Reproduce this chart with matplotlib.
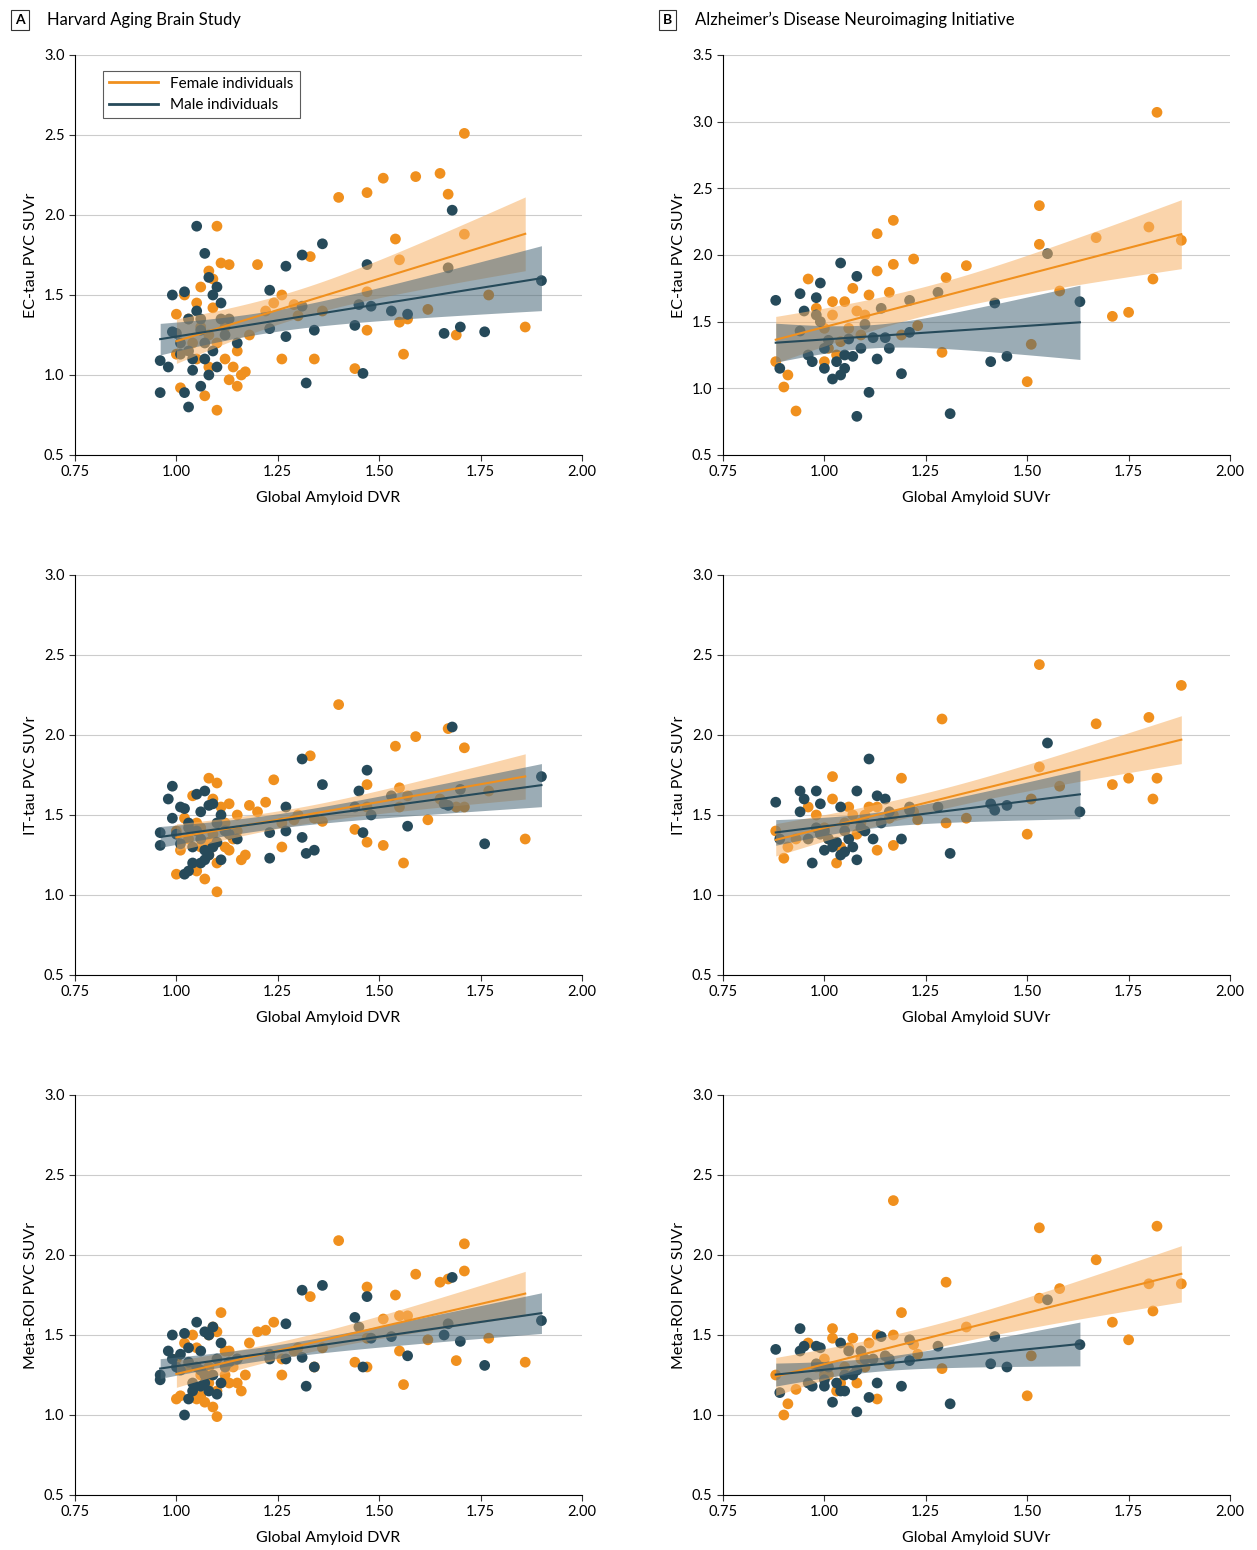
import numpy as np
import matplotlib
matplotlib.use("Agg")
import matplotlib.pyplot as plt

plt.rcParams['font.family'] = ['Lato', 'DejaVu Sans']

ORANGE = '#F0901E'
TEAL = '#264A5A'

# ---- Harvard Aging Brain Study ----
habs_f_x = [1.10, 1.08, 1.09, 1.11, 1.13, 1.20, 1.05, 1.02, 1.00, 1.03, 1.06, 1.08, 1.10, 1.12, 1.14,
            1.16, 1.17, 1.05, 1.00, 1.01, 1.07, 1.10, 1.13, 1.15, 1.08, 1.04, 1.12, 1.18, 1.22, 1.24,
            1.26, 1.29, 1.26, 1.30, 1.33, 1.34, 1.36, 1.40, 1.44, 1.47, 1.47, 1.47, 1.51, 1.54, 1.55,
            1.55, 1.56, 1.57, 1.59, 1.62, 1.65, 1.67, 1.69, 1.71, 1.71, 1.77, 1.86, 1.15, 1.09, 1.06]
habs_f_ec = [1.93, 1.65, 1.60, 1.70, 1.69, 1.69, 1.45, 1.50, 1.38, 1.35, 1.30, 1.25, 1.20, 1.10, 1.05,
             1.00, 1.02, 1.10, 1.13, 0.92, 0.87, 0.78, 0.97, 0.93, 1.05, 1.20, 1.30, 1.25, 1.40, 1.45,
             1.50, 1.44, 1.10, 1.37, 1.74, 1.10, 1.40, 2.11, 1.04, 2.14, 1.52, 1.28, 2.23, 1.85, 1.72,
             1.33, 1.13, 1.35, 2.24, 1.41, 2.26, 2.13, 1.25, 2.51, 1.88, 1.50, 1.30, 1.15, 1.42, 1.55]
habs_f_it = [1.70, 1.73, 1.60, 1.55, 1.57, 1.52, 1.45, 1.48, 1.40, 1.35, 1.30, 1.25, 1.20, 1.30, 1.35,
             1.22, 1.25, 1.15, 1.13, 1.28, 1.10, 1.02, 1.28, 1.40, 1.33, 1.62, 1.45, 1.56, 1.58, 1.72,
             1.30, 1.47, 1.45, 1.50, 1.87, 1.48, 1.46, 2.19, 1.41, 1.33, 1.69, 1.55, 1.31, 1.93, 1.67,
             1.55, 1.20, 1.62, 1.99, 1.47, 1.60, 2.04, 1.55, 1.92, 1.55, 1.65, 1.35, 1.50, 1.38, 1.42]
habs_f_meta = [1.52, 1.50, 1.55, 1.64, 1.40, 1.52, 1.42, 1.45, 1.35, 1.30, 1.25, 1.20, 1.15, 1.25, 1.30,
               1.15, 1.25, 1.10, 1.10, 1.12, 1.08, 0.99, 1.20, 1.35, 1.30, 1.50, 1.40, 1.45, 1.53, 1.58,
               1.25, 1.40, 1.35, 1.42, 1.74, 1.30, 1.42, 2.09, 1.33, 1.30, 1.80, 1.48, 1.60, 1.75, 1.62,
               1.40, 1.19, 1.62, 1.88, 1.47, 1.83, 1.85, 1.34, 2.07, 1.90, 1.48, 1.33, 1.20, 1.05, 1.12]

habs_m_x = [0.96, 0.96, 0.98, 0.99, 0.99, 1.00, 1.01, 1.02, 1.02, 1.03, 1.04, 1.04, 1.05, 1.05, 1.06,
            1.06, 1.07, 1.07, 1.08, 1.08, 1.09, 1.09, 1.10, 1.10, 1.11, 1.12, 1.13, 1.15, 1.03, 1.06,
            1.23, 1.23, 1.27, 1.27, 1.31, 1.31, 1.32, 1.34, 1.36, 1.44, 1.45, 1.46, 1.47, 1.48, 1.53,
            1.57, 1.66, 1.67, 1.68, 1.70, 1.76, 1.90, 1.01, 1.03, 1.07, 1.11]
habs_m_ec = [1.09, 0.89, 1.05, 1.27, 1.50, 1.26, 1.13, 0.89, 1.52, 1.35, 1.10, 1.03, 1.93, 1.40, 1.35,
             1.28, 1.76, 1.20, 1.61, 1.00, 1.50, 1.15, 1.55, 1.05, 1.45, 1.25, 1.35, 1.20, 0.80, 0.93,
             1.53, 1.29, 1.68, 1.24, 1.75, 1.43, 0.95, 1.28, 1.82, 1.31, 1.44, 1.01, 1.69, 1.43, 1.40,
             1.38, 1.26, 1.67, 2.03, 1.30, 1.27, 1.59, 1.20, 1.15, 1.10, 1.35]
habs_m_it = [1.31, 1.39, 1.60, 1.68, 1.48, 1.38, 1.55, 1.13, 1.54, 1.42, 1.30, 1.20, 1.63, 1.40, 1.52,
             1.35, 1.65, 1.22, 1.56, 1.25, 1.57, 1.30, 1.45, 1.33, 1.22, 1.40, 1.38, 1.35, 1.15, 1.20,
             1.39, 1.23, 1.55, 1.40, 1.85, 1.36, 1.26, 1.28, 1.69, 1.55, 1.65, 1.39, 1.78, 1.50, 1.62,
             1.43, 1.57, 1.56, 2.05, 1.66, 1.32, 1.74, 1.32, 1.45, 1.28, 1.50]
habs_m_meta = [1.22, 1.25, 1.40, 1.50, 1.35, 1.30, 1.38, 1.00, 1.51, 1.33, 1.20, 1.15, 1.58, 1.30, 1.40,
               1.28, 1.52, 1.20, 1.50, 1.15, 1.55, 1.25, 1.35, 1.13, 1.20, 1.30, 1.33, 1.35, 1.10, 1.18,
               1.35, 1.38, 1.57, 1.35, 1.78, 1.36, 1.18, 1.30, 1.81, 1.61, 1.55, 1.30, 1.74, 1.48, 1.49,
               1.37, 1.50, 1.57, 1.86, 1.46, 1.31, 1.59, 1.28, 1.42, 1.25, 1.45]

# ---- ADNI ----
adni_f_x = [0.88, 0.90, 0.91, 0.93, 0.96, 0.98, 1.00, 1.01, 1.02, 1.02, 1.03, 1.05, 1.06, 1.07, 1.08,
            1.09, 1.10, 1.11, 1.13, 1.13, 1.16, 1.17, 1.17, 1.19, 1.22, 1.23, 1.29, 1.30, 1.35, 1.50,
            1.51, 1.53, 1.53, 1.58, 1.67, 1.71, 1.75, 1.80, 1.81, 1.82, 1.88, 1.04, 1.00]
adni_f_ec = [1.20, 1.01, 1.10, 0.83, 1.82, 1.60, 1.45, 1.30, 1.65, 1.55, 1.25, 1.65, 1.45, 1.75, 1.58,
             1.40, 1.55, 1.70, 2.16, 1.88, 1.72, 2.26, 1.93, 1.40, 1.97, 1.47, 1.27, 1.83, 1.92, 1.05,
             1.33, 2.37, 2.08, 1.73, 2.13, 1.54, 1.57, 2.21, 1.82, 3.07, 2.11, 1.35, 1.20]
adni_f_it = [1.40, 1.23, 1.30, 1.35, 1.55, 1.50, 1.42, 1.35, 1.74, 1.60, 1.20, 1.45, 1.55, 1.50, 1.38,
             1.45, 1.50, 1.55, 1.28, 1.55, 1.48, 1.31, 1.50, 1.73, 1.52, 1.47, 2.10, 1.45, 1.48, 1.38,
             1.60, 2.44, 1.80, 1.68, 2.07, 1.69, 1.73, 2.11, 1.60, 1.73, 2.31, 1.30, 1.40]
adni_f_meta = [1.25, 1.00, 1.07, 1.16, 1.45, 1.30, 1.35, 1.25, 1.54, 1.48, 1.15, 1.30, 1.42, 1.48, 1.20,
               1.35, 1.30, 1.45, 1.10, 1.50, 1.32, 2.34, 1.50, 1.64, 1.44, 1.38, 1.29, 1.83, 1.55, 1.12,
               1.37, 2.17, 1.73, 1.79, 1.97, 1.58, 1.47, 1.82, 1.65, 2.18, 1.82, 1.20, 1.25]

adni_m_x = [0.88, 0.89, 0.94, 0.94, 0.95, 0.96, 0.97, 0.98, 0.98, 0.99, 0.99, 1.00, 1.00, 1.01, 1.02,
            1.03, 1.04, 1.04, 1.05, 1.05, 1.06, 1.07, 1.08, 1.08, 1.09, 1.10, 1.11, 1.12, 1.13, 1.14,
            1.15, 1.16, 1.19, 1.21, 1.21, 1.28, 1.31, 1.41, 1.42, 1.45, 1.55, 1.63]
adni_m_ec = [1.66, 1.15, 1.71, 1.43, 1.58, 1.25, 1.20, 1.55, 1.68, 1.79, 1.50, 1.15, 1.30, 1.36, 1.07,
             1.20, 1.94, 1.10, 1.25, 1.15, 1.37, 1.24, 0.79, 1.84, 1.30, 1.48, 0.97, 1.38, 1.22, 1.60,
             1.38, 1.30, 1.11, 1.42, 1.66, 1.72, 0.81, 1.20, 1.64, 1.24, 2.01, 1.65]
adni_m_it = [1.58, 1.35, 1.65, 1.52, 1.60, 1.35, 1.20, 1.42, 1.65, 1.57, 1.38, 1.28, 1.40, 1.35, 1.30,
             1.33, 1.55, 1.25, 1.40, 1.27, 1.35, 1.30, 1.22, 1.65, 1.42, 1.40, 1.85, 1.35, 1.62, 1.45,
             1.60, 1.52, 1.35, 1.55, 1.53, 1.55, 1.26, 1.57, 1.53, 1.56, 1.95, 1.52]
adni_m_meta = [1.41, 1.14, 1.54, 1.40, 1.43, 1.20, 1.18, 1.32, 1.43, 1.30, 1.42, 1.18, 1.22, 1.30, 1.08,
               1.20, 1.45, 1.15, 1.25, 1.15, 1.40, 1.25, 1.02, 1.28, 1.40, 1.35, 1.11, 1.35, 1.20, 1.49,
               1.37, 1.35, 1.18, 1.34, 1.47, 1.43, 1.07, 1.32, 1.49, 1.30, 1.72, 1.44]

row_labels = ['EC-tau PVC SUVr', 'IT-tau PVC SUVr', 'Meta-ROI PVC SUVr']
col_xlabels = ['Global Amyloid DVR', 'Global Amyloid SUVr']


def fit_band(ax, x, y, color, band_color, band_alpha):
    x = np.asarray(x); y = np.asarray(y)
    b, a = np.polyfit(x, y, 1)
    n = len(x)
    resid = y - (a + b * x)
    s = np.sqrt(np.sum(resid ** 2) / (n - 2))
    xs = np.linspace(x.min(), x.max(), 100)
    se = s * np.sqrt(1 / n + (xs - x.mean()) ** 2 / np.sum((x - x.mean()) ** 2))
    yh = a + b * xs
    ax.fill_between(xs, yh - 1.98 * se, yh + 1.98 * se, color=band_color, alpha=band_alpha,
                    lw=0, zorder=4)
    ax.plot(xs, yh, color=color, lw=1.5, zorder=5)


fig = plt.figure(figsize=(12.57, 15.5), dpi=100)
lefts = [75 / 1257, 723 / 1257]
bottoms = [1 - 455 / 1550, 1 - 975 / 1550, 1 - 1495 / 1550]
w, h = 507 / 1257, 400 / 1550

data = [
    [(habs_f_x, habs_f_ec, habs_m_x, habs_m_ec), (adni_f_x, adni_f_ec, adni_m_x, adni_m_ec)],
    [(habs_f_x, habs_f_it, habs_m_x, habs_m_it), (adni_f_x, adni_f_it, adni_m_x, adni_m_it)],
    [(habs_f_x, habs_f_meta, habs_m_x, habs_m_meta), (adni_f_x, adni_f_meta, adni_m_x, adni_m_meta)],
]

for r in range(3):
    for c in range(2):
        ax = fig.add_axes([lefts[c], bottoms[r], w, h])
        fx, fy, mx, my = data[r][c]
        ax.scatter(fx, fy, s=60, color=ORANGE, edgecolor='none', zorder=3)
        ax.scatter(mx, my, s=60, color=TEAL, edgecolor='none', zorder=3)
        fit_band(ax, fx, fy, ORANGE, '#F7B266', 0.55)
        fit_band(ax, mx, my, TEAL, '#4A6878', 0.55)
        ymax = 3.5 if (r == 0 and c == 1) else 3.0
        ax.set_xlim(0.75, 2.0)
        ax.set_ylim(0.5, ymax)
        ax.set_xticks(np.arange(0.75, 2.01, 0.25))
        ax.set_xticklabels(['%.2f' % v for v in np.arange(0.75, 2.01, 0.25)])
        yt = np.arange(0.5, ymax + 0.01, 0.5)
        ax.set_yticks(yt)
        ax.set_yticklabels(['%.1f' % v for v in yt])
        ax.yaxis.grid(True, color='#cccccc', lw=0.8, zorder=0)
        ax.set_axisbelow(True)
        for sp in ['top', 'right']:
            ax.spines[sp].set_visible(False)
        ax.tick_params(labelsize=10.5, direction='out', length=4, color='#333333')
        ax.set_ylabel(row_labels[r], fontsize=11.5)
        ax.set_xlabel(col_xlabels[c], fontsize=11.5, labelpad=8)
        if r == 0 and c == 0:
            ax.plot([], [], color=ORANGE, lw=2, label='Female individuals')
            ax.plot([], [], color=TEAL, lw=2, label='Male individuals')
            leg = ax.legend(loc='upper left', bbox_to_anchor=(0.04, 0.98), fontsize=11,
                            fancybox=False, edgecolor='#333333', handlelength=3.2)
            leg.get_frame().set_linewidth(0.8)

for xpos, lab, title in [(15 / 1257, 'A', 'Harvard Aging Brain Study'),
                         (663 / 1257, 'B', "Alzheimer’s Disease Neuroimaging Initiative")]:
    fig.text(xpos, 1 - 20 / 1550, lab, fontsize=10, fontweight='bold', va='center',
             bbox=dict(boxstyle='square,pad=0.3', fc='white', ec='#333333', lw=0.8))
    fig.text(xpos + 32 / 1257, 1 - 20 / 1550, title, fontsize=12, va='center')

fig.savefig('out.png', dpi=100)
